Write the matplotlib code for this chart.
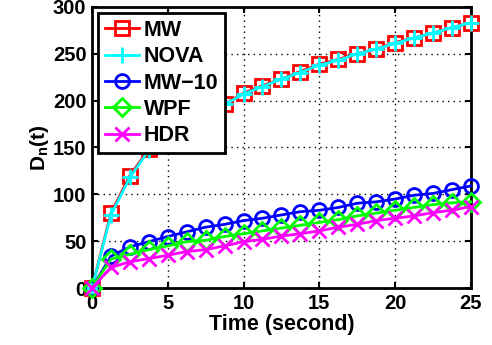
import matplotlib
matplotlib.use("Agg")
import matplotlib.pyplot as plt
import numpy as np

plt.rcParams['font.family'] = ['Liberation Sans', 'DejaVu Sans']
plt.rcParams['mathtext.fontset'] = 'custom'
plt.rcParams['mathtext.bf'] = 'Liberation Sans:bold'
plt.rcParams['mathtext.rm'] = 'Liberation Sans:bold'
plt.rcParams['mathtext.it'] = 'Liberation Sans:bold'

time = [0, 1.25, 2.5, 3.75, 5, 6.25, 7.5, 8.75, 10, 11.25, 12.5, 13.75, 15,
        16.25, 17.5, 18.75, 20, 21.25, 22.5, 23.75, 25]
mw = [0, 80, 120, 148, 166, 179, 189, 196, 208, 216, 223, 231, 239,
      244, 250, 255, 262, 267, 272, 278, 283]
nova = [0, 78, 118, 147, 165, 178, 188, 196, 207, 215, 223, 230, 238,
        243, 250, 255, 261, 267, 272, 278, 283]
mw10 = [0, 34, 44, 49.5, 55, 60, 65, 68, 72, 74.5, 78, 81.5, 83,
        86, 90.5, 92, 95, 99, 101, 105, 109]
wpf = [0, 31, 36, 41, 45, 49.5, 51, 55, 58, 61, 64, 67, 70,
       73, 77, 80, 83, 86, 89, 91, 92]
hdr = [0, 22, 28, 31.5, 35, 39, 41, 45, 49.5, 52, 55.5, 58, 61,
       65, 68, 72, 74.5, 77, 80.5, 83, 87]

series = [
    ("MW", mw, 'red', 's', 10),
    ("NOVA", nova, 'cyan', '+', 12),
    ("MW\u221210", mw10, 'blue', 'o', 10),
    ("WPF", wpf, '#00ff00', 'D', 9),
    ("HDR", hdr, 'magenta', 'x', 10),
]

fig = plt.figure(figsize=(4.92, 3.45), dpi=100)
ax = fig.add_axes([0.187, 0.165, 0.770, 0.815])

for label, vals, color, marker, ms in series:
    ax.plot(time, vals, color=color, marker=marker, markersize=ms,
            markerfacecolor='none', markeredgecolor=color, markeredgewidth=2,
            linewidth=2, label=label, clip_on=False, zorder=3)

ax.set_xlim(0, 25)
ax.set_ylim(0, 300)
ax.set_xticks([0, 5, 10, 15, 20, 25])
ax.set_yticks([0, 50, 100, 150, 200, 250, 300])
ax.grid(True, color='black', linestyle=(0, (1, 3)), linewidth=1)
ax.tick_params(direction='in', top=True, right=True, length=4, width=1.5,
               labelsize=14.5)
ax.tick_params(axis='x', pad=4)
ax.tick_params(axis='y', pad=4)
for lab in ax.get_xticklabels() + ax.get_yticklabels():
    lab.set_fontweight('bold')
for sp in ax.spines.values():
    sp.set_linewidth(2)

ax.set_xlabel("Time (second)", fontsize=15.5, fontweight='bold', labelpad=1)
ax.set_ylabel(r"$\mathbf{D_n(t)}$", fontsize=15, labelpad=1)

leg = ax.legend(loc='upper left', prop={'weight': 'bold', 'size': 15.5},
                frameon=True, fancybox=False, handlelength=1.6,
                borderaxespad=0.3, labelspacing=0.25, handletextpad=0.2,
                borderpad=0.3)
leg.get_frame().set_edgecolor('black')
leg.get_frame().set_linewidth(2)
leg.get_frame().set_alpha(1)

fig.savefig("out.png", dpi=100)
